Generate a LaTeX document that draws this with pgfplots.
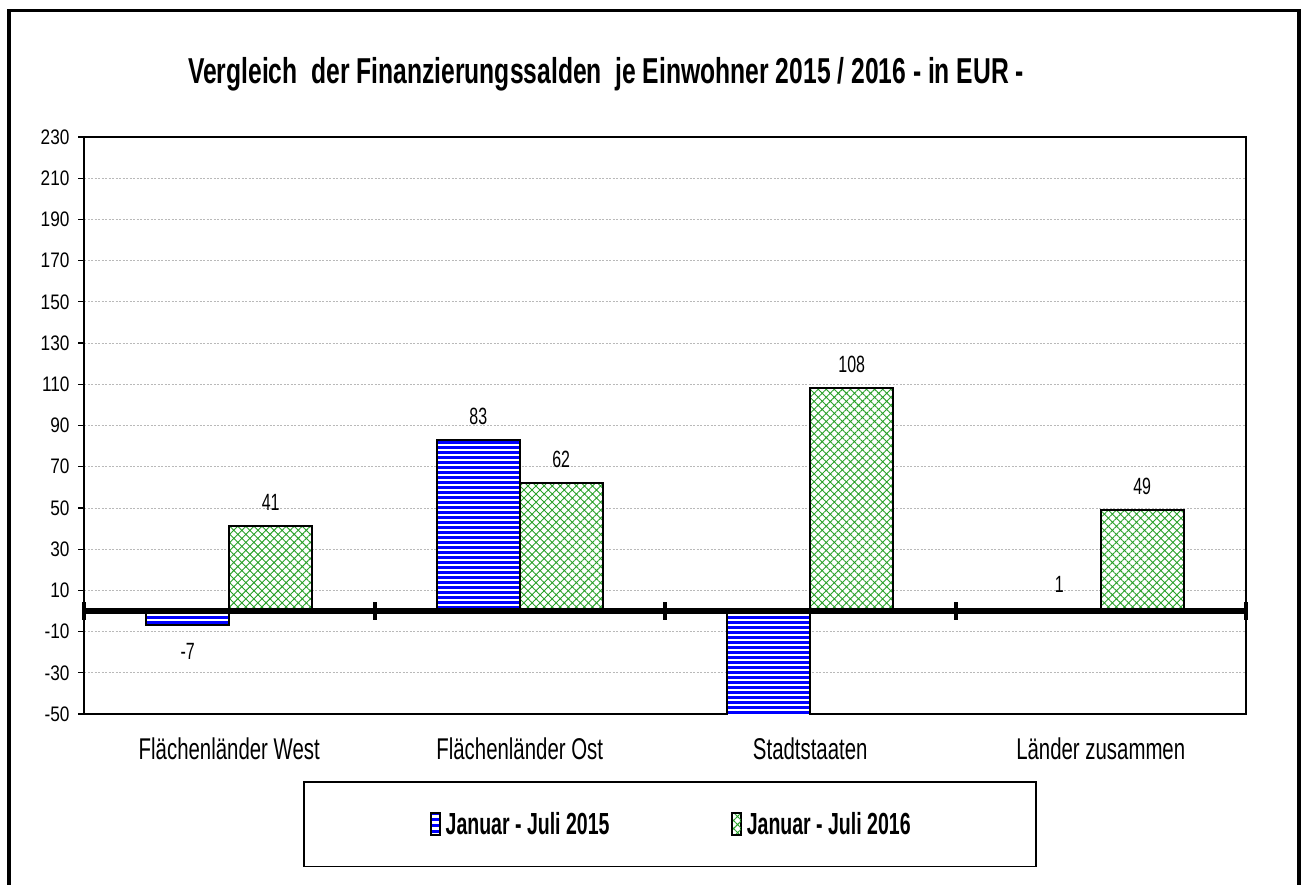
\documentclass[border=0pt]{standalone}
\usepackage{fontspec}
\setmainfont{Liberation Sans}
\newfontfamily\tickfont{Liberation Sans}[FakeStretch=0.82]
\newfontfamily\titlefont{Liberation Sans}[FakeStretch=0.685]
\newfontfamily\narrowfont{Liberation Sans}[FakeStretch=0.68]
\newfontfamily\legfont{Liberation Sans}[FakeStretch=0.64]
\usepackage{pgfplots}
\usepackage{pgfplotstable}
\pgfplotsset{compat=1.18}
\usetikzlibrary{patterns.meta}
\definecolor{barblue}{RGB}{0,0,255}
\definecolor{hatchgreen}{RGB}{40,160,40}

\pgfplotstableread{
x y label
1 -7 -7
2 83 83
3 -78 {}
4 1 1
}\dataA
\pgfplotstableread{
x y label
1 41 41
2 62 62
3 108 108
4 49 49
}\dataB

\begin{document}
\begin{tikzpicture}[x=1pt,y=1pt]
\useasboundingbox (0,0) rectangle (1301,-885);
\draw[line width=3.5pt] (9,-890) -- (9,-10.3) -- (1299,-10.3) -- (1299,-890);
\node[anchor=base, font=\titlefont\fontsize{36}{40}\selectfont\bfseries] at (606,-84)
  {Vergleich\ \ der Finanzierungssalden\ \ je Einwohner 2015 / 2016 - in EUR -};
\draw[line width=1.3pt] (304,-782) rectangle (1036,-866.5);
\begin{axis}[
  at={(84pt,-714pt)}, anchor=south west,
  scale only axis, width=1162pt, height=577pt,
  xmin=0.5, xmax=4.5, ymin=-50, ymax=230,
  ybar, bar width=0.2857,
  clip mode=individual,
  axis line style={line width=2.2pt},
  ymajorgrids,
  major grid style={gray!55, dash pattern=on 2pt off 1.5pt, line width=0.8pt},
  ytick={-50,-30,...,230},
  yticklabels={-50,-30,-10,10,30,50,70,90,110,130,150,170,190,210,230},
  ytick pos=left, tick align=outside, major tick length=6pt,
  ytick style={line width=1.2pt, black},
  yticklabel style={font=\tickfont\fontsize{21}{22}\selectfont, xshift=-5pt},
  xtick={1,2,3,4},
  xticklabels={Flächenländer West, Flächenländer Ost, Stadtstaaten, Länder zusammen},
  xtick style={draw=none},
  xticklabel style={font=\narrowfont\fontsize{30}{32}\selectfont, anchor=base, yshift=-39pt},
  nodes near coords,
  point meta=explicit symbolic,
  visualization depends on={rawy \as \rawy},
  nodes near coords align={center},
  nodes near coords style={font=\narrowfont\fontsize{23.5}{25}\selectfont, anchor=center,
    yshift={ifthenelse(\rawy<0,-26,24)}},
  legend columns=2,
  legend style={draw=none, fill=none, at={(0.5056,-0.1906)}, anchor=center,
    font=\legfont\fontsize{30.5}{33}\selectfont\bfseries,
    /tikz/every odd column/.append style={column sep=3pt},
    /tikz/every even column/.append style={column sep=120pt}},
  legend image code/.code={\draw[#1, line width=1.3pt] (0pt,-11pt) rectangle (9pt,11pt);},
]
\addplot[bar shift=-0.14285, draw=black, line width=2pt,
  preaction={fill=white},
  pattern={Lines[angle=0, distance=5.4pt, line width=3.1pt]}, pattern color=barblue]
  table[x=x, y=y, meta=label] {\dataA};
\addlegendentry{Januar - Juli 2015}
\addplot[bar shift=0.14285, draw=black, line width=2pt,
  preaction={fill=white},
  pattern={Hatch[angle=45, distance=5.7pt, line width=0.9pt]}, pattern color=hatchgreen]
  table[x=x, y=y, meta=label] {\dataB};
\addlegendentry{Januar - Juli 2016}
\draw[line width=6.7pt] (axis cs:0.5,0) -- (axis cs:4.5,0);
\draw[line width=4pt] (axis cs:0.5,0) ++(0pt,-9pt) -- ++(0pt,18pt);
\draw[line width=4pt] (axis cs:1.5,0) ++(0pt,-9pt) -- ++(0pt,18pt);
\draw[line width=4pt] (axis cs:2.5,0) ++(0pt,-9pt) -- ++(0pt,18pt);
\draw[line width=4pt] (axis cs:3.5,0) ++(0pt,-9pt) -- ++(0pt,18pt);
\draw[line width=4pt] (axis cs:4.5,0) ++(0pt,-9pt) -- ++(0pt,18pt);
\end{axis}
\end{tikzpicture}
\end{document}
